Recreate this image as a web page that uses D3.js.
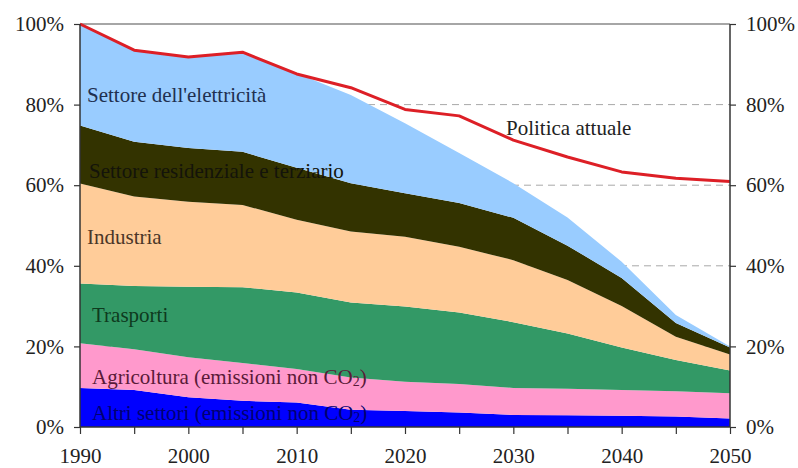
<!DOCTYPE html>
<html>
<head>
<meta charset="utf-8">
<script src="https://cdn.jsdelivr.net/npm/d3@7/dist/d3.min.js"></script>
<style>
  body { margin: 0; background: #fff; }
  svg { display: block; }
  svg text { font-family: "Liberation Serif", "DejaVu Serif", serif; }
</style>
</head>
<body>
<svg id="chart" width="798" height="468"></svg>
<script>
// ---- data (percent of 1990 emissions) ----
const years = [1990, 1995, 2000, 2005, 2010, 2015, 2020, 2025, 2030, 2035, 2040, 2045, 2050];
const altri        = [9.7, 9.2, 7.4, 6.5, 6.1, 4.3, 4.0, 3.6, 3.0, 2.9, 2.8, 2.6, 2.1];
const agricoltura  = [11.1, 10.1, 9.9, 9.4, 8.3, 8.0, 7.2, 7.1, 6.7, 6.6, 6.4, 6.3, 6.3];
const trasporti    = [14.8, 15.7, 17.5, 18.8, 19.0, 18.6, 18.7, 17.7, 16.3, 13.7, 10.5, 7.7, 5.6];
const industria    = [24.8, 22.2, 21.1, 20.4, 18.0, 17.6, 17.3, 16.3, 15.4, 13.3, 10.3, 5.8, 4.0];
const residenziale = [14.4, 13.6, 13.3, 13.2, 12.9, 12.0, 10.8, 10.9, 10.5, 8.5, 7.0, 3.4, 1.7];
const elettricita  = [25.2, 22.7, 22.6, 24.7, 23.5, 21.9, 17.4, 12.4, 8.6, 7.0, 4.0, 2.0, 0.3];
const politica     = [100, 93.5, 91.8, 93.0, 87.6, 84.2, 78.8, 77.2, 71.2, 67.0, 63.3, 61.7, 60.9];

const seriesKeys   = ["altri", "agricoltura", "trasporti", "industria", "residenziale", "elettricita"];
const seriesValues = [altri, agricoltura, trasporti, industria, residenziale, elettricita];
const seriesColors = ["#0000ff", "#ff99cc", "#339966", "#ffcc99", "#333300", "#99ccff"];

const yTicks = [0, 20, 40, 60, 80, 100];
const xTicks = [1990, 1995, 2000, 2005, 2010, 2015, 2020, 2025, 2030, 2035, 2040, 2045, 2050];
const xLabelYears = [1990, 2000, 2010, 2020, 2030, 2040, 2050];

// ---- layout ----
const svg = d3.select("#chart");
const x = d3.scaleLinear().domain([1990, 2050]).range([80, 730]);
const y = d3.scaleLinear().domain([0, 100]).range([427, 24]);
const FONT = "Liberation Serif, DejaVu Serif, serif";

const table = years.map((yr, i) => {
  const row = { year: yr };
  seriesKeys.forEach((k, j) => row[k] = seriesValues[j][i]);
  return row;
});
const stacked = d3.stack().keys(seriesKeys)(table);

// gridlines
svg.append("g").selectAll("line")
  .data([20, 40, 60, 80]).join("line")
  .attr("x1", x(1990)).attr("x2", x(2050))
  .attr("y1", d => y(d)).attr("y2", d => y(d))
  .attr("stroke", "#a8a8a8").attr("stroke-width", 1)
  .attr("stroke-dasharray", "7,5");

// top border
svg.append("line")
  .attr("x1", x(1990)).attr("x2", x(2050))
  .attr("y1", y(100)).attr("y2", y(100))
  .attr("stroke", "#888").attr("stroke-width", 1.5);

// areas
const area = d3.area()
  .x(d => x(d.data.year))
  .y0(d => y(d[0]))
  .y1(d => y(d[1]));
svg.append("g").selectAll("path")
  .data(stacked).join("path")
  .attr("d", area)
  .attr("fill", (d, i) => seriesColors[i]);

// red line
const line = d3.line().x((d, i) => x(years[i])).y(d => y(d));
svg.append("path")
  .datum(politica)
  .attr("d", line)
  .attr("fill", "none")
  .attr("stroke", "#dd1f26")
  .attr("stroke-width", 3)
  .attr("stroke-linejoin", "round");

// axes
const axisColor = "#333";
const gx = svg.append("g").attr("transform", `translate(0,${y(0)})`)
  .call(d3.axisBottom(x).tickValues(xTicks).tickSize(7).tickPadding(14)
    .tickFormat(d => xLabelYears.includes(d) ? String(d) : ""));
const gl = svg.append("g").attr("transform", `translate(${x(1990)},0)`)
  .call(d3.axisLeft(y).tickValues(yTicks).tickSize(6).tickPadding(10)
    .tickFormat(d => d + "%"));
const gr = svg.append("g").attr("transform", `translate(${x(2050)},0)`)
  .call(d3.axisRight(y).tickValues(yTicks).tickSize(6).tickPadding(10)
    .tickFormat(d => d + "%"));
[gx, gl, gr].forEach(g => {
  g.attr("font-family", null).attr("font-size", null);
  g.selectAll("path.domain").attr("stroke", axisColor).attr("stroke-width", 1.5);
  g.selectAll(".tick line").attr("stroke", axisColor).attr("stroke-width", 1.2);
  g.selectAll("text").style("font-family", FONT).style("font-size", "21px").attr("fill", "#222");
});
gx.select("path.domain").attr("d", `M${x(1990)},0H${x(2050)}`);
gl.select("path.domain").attr("d", `M0,${y(100)}V${y(0)}`);
gr.select("path.domain").attr("d", `M0,${y(100)}V${y(0)}`);

// series labels
const labels = [
  { text: "Settore dell'elettricità", x: 87, y: 102, color: "#1f3050" },
  { text: "Settore residenziale e terziario", x: 89, y: 178, color: "#14140a" },
  { text: "Industria", x: 87, y: 244, color: "#4a3628" },
  { text: "Trasporti", x: 92, y: 322, color: "#0e3a1e" },
  { text: "Agricoltura (emissioni non CO", sub: "2", tail: ")", x: 92, y: 384, color: "#5a1a38" },
  { text: "Altri settori (emissioni non CO", sub: "2", tail: ")", x: 92, y: 420, color: "#000070" },
  { text: "Politica attuale", x: 506, y: 135, color: "#222" }
];
labels.forEach(l => {
  const t = svg.append("text")
    .attr("x", l.x).attr("y", l.y)
    .style("font-family", FONT).style("font-size", "21px")
    .attr("fill", l.color);
  t.append("tspan").text(l.text);
  if (l.sub) {
    t.append("tspan").style("font-size", "14px").attr("dy", 2).text(l.sub);
    t.append("tspan").attr("dy", -2).text(l.tail);
  }
});
</script>
</body>
</html>
